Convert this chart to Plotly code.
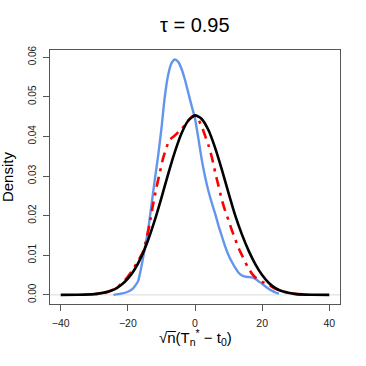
import plotly.graph_objects as go

# ---- data ----
black_x = [-40, -35, -30, -26, -24, -22, -20, -18, -16, -14, -12, -10, -8, -6, -4, -2, 0,
           2, 4, 6, 8, 10, 12, 14, 16, 18, 20, 22, 24, 26, 30, 35, 40]
black_y = [0.0000, 0.00003, 0.0002, 0.0008, 0.0014, 0.0025, 0.0041, 0.0064, 0.0096, 0.0138,
           0.0188, 0.0245, 0.0305, 0.0361, 0.0408, 0.0440, 0.0453,
           0.0444, 0.0416, 0.0371, 0.0316, 0.0257, 0.0200, 0.0152, 0.0111, 0.0077, 0.0050,
           0.0030, 0.0017, 0.0009, 0.0002, 0.00003, 0.0000]

blue_x = [-24.3, -22, -20, -18.5, -17.5, -16.9, -16, -15, -14, -13, -12, -11, -10, -9, -8, -7,
          -6, -5, -4, -3, -2, -1, 0, 1, 2, 3, 4, 5, 6, 7, 8, 9, 10, 11, 12, 13, 14, 15, 16,
          17, 18, 19, 20, 21, 22, 23, 24, 25]
blue_y = [0.0000, 0.0003, 0.0008, 0.0016, 0.0027, 0.0036, 0.0070, 0.0115, 0.0162, 0.0225,
          0.0289, 0.0350, 0.0420, 0.0500, 0.0555, 0.0585,
          0.0594, 0.0588, 0.0570, 0.0543, 0.0510, 0.0477, 0.0445, 0.0395, 0.0342, 0.0298,
          0.0262, 0.0232, 0.0205, 0.0175, 0.0148, 0.0122, 0.0100, 0.0083, 0.0068, 0.0056,
          0.0049, 0.0046, 0.0045, 0.0044, 0.0040, 0.0034, 0.0028, 0.0021, 0.0015, 0.0010,
          0.0006, 0.0003]

red_x = [-29.7, -27, -25, -23, -21, -19, -17, -15.5, -14.5, -13.5, -12.5, -11.5, -10.5, -9.5,
         -8.5, -7.5, -6, -4.5, -3, -1.5, -0.5, 0.5, 2, 3, 4, 5, 6, 7, 8, 9, 10, 11, 12, 13,
         14, 15, 16, 17, 18, 19, 20, 21, 22, 24, 26, 28, 30, 33]
red_y = [0.0002, 0.0005, 0.0011, 0.0021, 0.0036, 0.0058, 0.0085, 0.0108, 0.0140, 0.0180,
         0.0228, 0.0270, 0.0308, 0.0345, 0.0372, 0.0392, 0.0402, 0.0415, 0.0428, 0.0445,
         0.0452, 0.0450, 0.0425, 0.0402, 0.0378, 0.0348, 0.0310, 0.0275, 0.0240, 0.0212,
         0.0188, 0.0163, 0.0140, 0.0118, 0.0100, 0.0082, 0.0066, 0.0053, 0.0044, 0.0038,
         0.0033, 0.0029, 0.0025, 0.0015, 0.0009, 0.0005, 0.0003, 0.0001]

x_ticks = [-40, -20, 0, 20, 40]
y_ticks = [0.00, 0.01, 0.02, 0.03, 0.04, 0.05, 0.06]
y_tick_labels = ["0.00", "0.01", "0.02", "0.03", "0.04", "0.05", "0.06"]

FONT = "Liberation Sans, Arial, Helvetica, sans-serif"

fig = go.Figure()
fig.add_trace(go.Scatter(x=blue_x, y=blue_y, mode="lines",
                         line=dict(color="#6495ED", width=2.4, shape="spline", smoothing=0.6),
                         hoverinfo="skip"))
fig.add_trace(go.Scatter(x=red_x, y=red_y, mode="lines",
                         line=dict(color="#FF0000", width=2.6, shape="spline", smoothing=0.6,
                                   dash="3px,6px,10px,6px"),
                         hoverinfo="skip"))
fig.add_trace(go.Scatter(x=black_x, y=black_y, mode="lines",
                         line=dict(color="#000000", width=2.6, shape="spline", smoothing=0.6),
                         hoverinfo="skip"))

# light gray baseline
fig.add_shape(type="line", xref="paper", yref="y", x0=0, x1=1, y0=0, y1=0,
              line=dict(color="#d9d9d9", width=1), layer="below")

fig.update_layout(
    width=366, height=366,
    margin=dict(l=50, r=26, t=50, b=62),
    paper_bgcolor="white", plot_bgcolor="white",
    showlegend=False,
    font=dict(family=FONT, color="#222"),
    xaxis=dict(range=[-43.2, 43.2], tickvals=x_ticks, ticks="outside", ticklen=6,
               tickcolor="#555", showline=True, linecolor="#555", linewidth=1, mirror=True,
               showgrid=False, zeroline=False, tickfont=dict(size=10.5, family=FONT, color="#222"),
               ticklabelstandoff=3),
    yaxis=dict(range=[-0.0023, 0.0618], tickvals=y_ticks, ticktext=y_tick_labels,
               ticks="outside", ticklen=6, tickcolor="#555", showline=True, linecolor="#555",
               linewidth=1, mirror=True, showgrid=False, zeroline=False, tickangle=-90,
               tickfont=dict(size=10, family=FONT, color="#222"), ticklabelstandoff=3),
    annotations=[
        dict(text="τ = 0.95", xref="paper", yref="paper", x=0.5, y=1.098,
             xanchor="center", yanchor="middle", showarrow=False,
             font=dict(size=20, family=FONT, color="#000")),
        dict(text="Density", xref="paper", yref="paper", x=-0.148, y=0.5, textangle=-90,
             xanchor="center", yanchor="middle", showarrow=False,
             font=dict(size=15, family=FONT, color="#000")),
        dict(text="√n̅(T<sub>n</sub><sup>*</sup> − t<sub>0</sub>)", xref="paper", yref="paper",
             x=0.5, y=-0.13, xanchor="center", yanchor="middle", showarrow=False,
             font=dict(size=15, family=FONT, color="#000")),
    ],
)

fig.write_html("out.html", config={"displayModeBar": False},
               post_script="document.body.style.margin='0';")
